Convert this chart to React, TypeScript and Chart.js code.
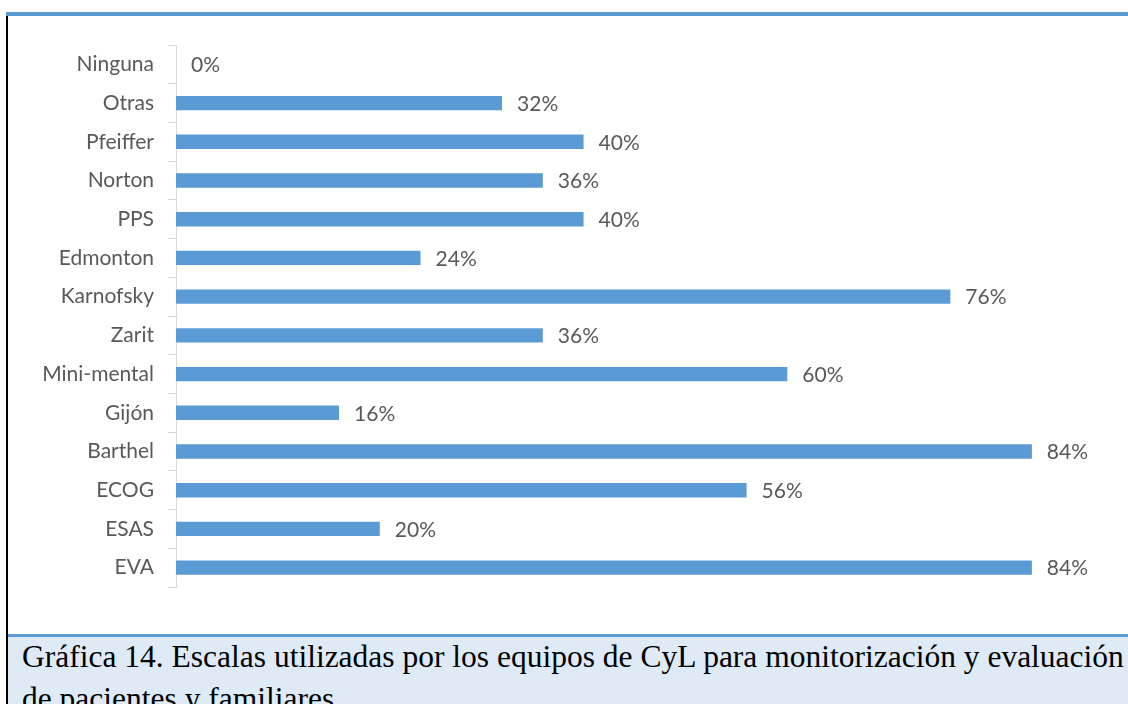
import React, { useEffect, useRef } from "react";
import { Chart, registerables } from "chart.js";

Chart.register(...registerables);

const categories = [
  "Ninguna",
  "Otras",
  "Pfeiffer",
  "Norton",
  "PPS",
  "Edmonton",
  "Karnofsky",
  "Zarit",
  "Mini-mental",
  "Gijón",
  "Barthel",
  "ECOG",
  "ESAS",
  "EVA",
];
const values = [0, 32, 40, 36, 40, 24, 76, 36, 60, 16, 84, 56, 20, 84];
const axisMin = 0;
const axisMax = 90;
const captionLine1 =
  "Gráfica 14. Escalas utilizadas por los equipos de CyL para monitorización y evaluación";
const captionLine2 = "de pacientes y familiares";

const BAR_COLOR = "#5B9BD5";
const LABEL_COLOR = "#595959";
const AXIS_COLOR = "#D9D9D9";

const dataLabelPlugin = {
  id: "dataLabels",
  afterDatasetsDraw(chart: any) {
    const ctx = chart.ctx;
    const meta = chart.getDatasetMeta(0);
    const ds = chart.data.datasets[0];
    ctx.save();
    ctx.font = "21px Lato";
    ctx.fillStyle = LABEL_COLOR;
    ctx.textAlign = "left";
    ctx.textBaseline = "middle";
    meta.data.forEach((el: any, i: number) => {
      const v = ds.data[i];
      ctx.fillText(`${v}%`, el.x + 15, el.y + 1);
    });
    ctx.restore();
  },
};

export default function App() {
  const canvasRef = useRef<HTMLCanvasElement | null>(null);

  useEffect(() => {
    if (!canvasRef.current) return;
    const chart = new Chart(canvasRef.current, {
      type: "bar",
      data: {
        labels: categories,
        datasets: [
          {
            data: values,
            backgroundColor: BAR_COLOR,
            borderWidth: 0,
            categoryPercentage: 1,
            barPercentage: 0.37,
          },
        ],
      },
      options: {
        indexAxis: "y",
        animation: false,
        responsive: false,
        devicePixelRatio: 1,
        layout: { padding: { top: 29, bottom: 47, left: 0, right: 35 } },
        plugins: {
          legend: { display: false },
          tooltip: { enabled: false },
          title: { display: false },
        },
        scales: {
          x: {
            display: false,
            min: axisMin,
            max: axisMax,
          },
          y: {
            afterFit(scale: any) {
              scale.width = 168;
            },
            grid: {
              display: true,
              drawOnChartArea: false,
              drawTicks: true,
              tickLength: 8,
              color: AXIS_COLOR,
              offset: true,
            },
            border: { display: true, color: AXIS_COLOR, width: 1 },
            ticks: {
              color: LABEL_COLOR,
              font: { family: "Lato", size: 21 },
              padding: 14,
              autoSkip: false,
            },
          },
        },
      },
      plugins: [dataLabelPlugin],
    });
    return () => chart.destroy();
  }, []);

  return (
    <div
      style={{
        position: "absolute",
        left: 0,
        top: 0,
        width: 1128,
        height: 704,
        overflow: "hidden",
        background: "#ffffff",
      }}
    >
      <div
        style={{
          position: "absolute",
          left: 6,
          top: 12,
          width: 1122,
          height: 4,
          background: BAR_COLOR,
        }}
      />
      <div
        style={{
          position: "absolute",
          left: 6,
          top: 16,
          width: 2,
          height: 688,
          background: "#000000",
        }}
      />
      <div style={{ position: "absolute", left: 8, top: 16, width: 1120, height: 618 }}>
        <canvas ref={canvasRef} width={1120} height={618} style={{ display: "block" }} />
      </div>
      <div
        style={{
          position: "absolute",
          left: 8,
          top: 634,
          width: 1120,
          height: 3,
          background: BAR_COLOR,
        }}
      />
      <div
        style={{
          position: "absolute",
          left: 8,
          top: 637,
          width: 1120,
          height: 67,
          background: "#DEEAF6",
          overflow: "hidden",
        }}
      >
        <div
          style={{
            position: "absolute",
            left: 14,
            top: -1,
            fontFamily: "'Liberation Serif', 'Times New Roman', serif",
            fontSize: 31.5,
            lineHeight: "42px",
            color: "#000000",
            whiteSpace: "nowrap",
          }}
        >
          {captionLine1}
          <br />
          {captionLine2}
        </div>
      </div>
    </div>
  );
}
